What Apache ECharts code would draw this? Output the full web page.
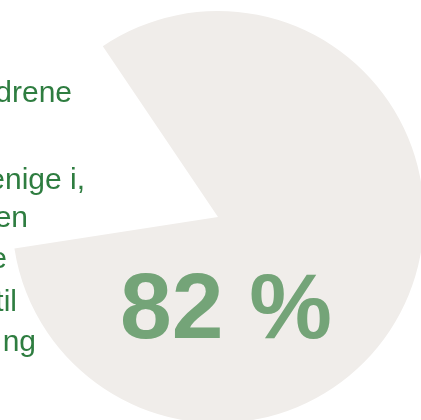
<!DOCTYPE html>
<html>
<head>
<meta charset="utf-8">
<script src="https://cdn.jsdelivr.net/npm/echarts@6/dist/echarts.min.js"></script>
<style>
html,body{margin:0;padding:0;background:#fff;}
#chart{width:421px;height:420px;}
</style>
</head>
<body>
<div id="chart"></div>
<script>
// Data
const categories = ['Enige', 'Øvrige'];
const values = [82, 18];
const sliceColors = ['#f0edea', 'rgba(255,255,255,0)'];
const bigLabel = values[0] + ' %';
// Visible tails of the clipped left-hand text block
const textLines = ['drene', 'enige i,', 'en', 'e', 'til', 'ng'];
const textRightEdges = [72, 85, 28, 7, 17, 36];
const textBaselines = [104, 191, 229, 270, 313, 353];

const FONT = '"Liberation Sans", Arial, Helvetica, sans-serif';
const textSize = 30;
const bigSize = 93;

const chart = echarts.init(document.getElementById('chart'), null, {renderer: 'canvas'});

const graphics = textLines.map((t, i) => ({
  type: 'text',
  z: 10,
  style: {
    text: t,
    x: textRightEdges[i],
    y: textBaselines[i] - 0.3465 * textSize,
    align: 'right',
    verticalAlign: 'middle',
    font: textSize + 'px ' + FONT,
    fill: '#2e7d40'
  }
}));
graphics.push({
  type: 'text',
  z: 10,
  style: {
    text: bigLabel,
    x: 226,
    y: 345 - 0.3465 * bigSize,
    align: 'center',
    verticalAlign: 'middle',
    font: 'bold ' + bigSize + 'px ' + FONT,
    fill: '#74a478'
  }
});

chart.setOption({
  animation: false,
  backgroundColor: '#ffffff',
  series: [{
    type: 'pie',
    center: [218, 217],
    radius: [0, 206],
    startAngle: 124,
    clockwise: true,
    silent: true,
    label: {show: false},
    labelLine: {show: false},
    emphasis: {disabled: true},
    data: categories.map((c, i) => ({
      name: c,
      value: values[i],
      itemStyle: {color: sliceColors[i], borderWidth: 0}
    }))
  }],
  graphic: graphics
});
</script>
</body>
</html>
